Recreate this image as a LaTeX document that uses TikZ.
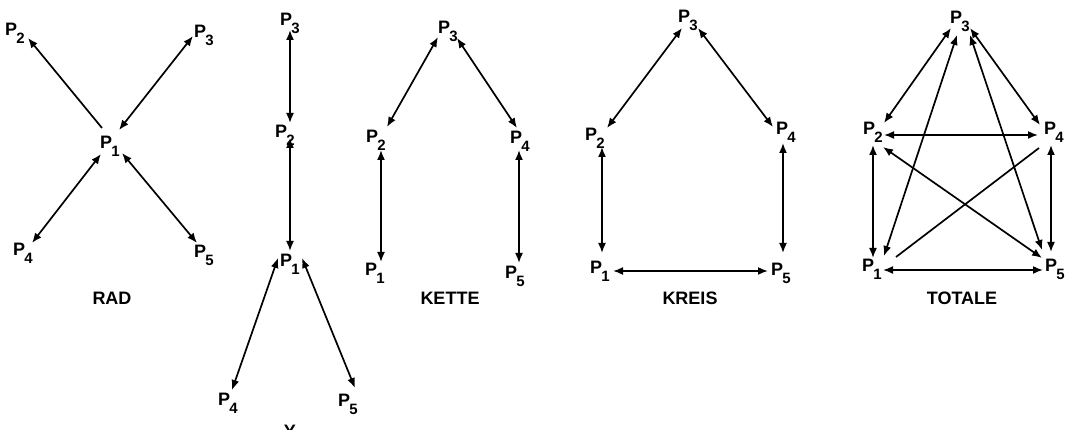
\documentclass[tikz,border=0pt]{standalone}
\usepackage{fontspec}
\setmainfont{Liberation Sans}
\usetikzlibrary{arrows.meta}
% point label: capital P with a deep, large subscript digit
\newcommand\pidx[1]{P\kern-0.8pt\raisebox{-8pt}{\fontsize{15}{15}\selectfont#1}}
\begin{document}
\begin{tikzpicture}[x=1pt,y=-1pt,
  lab/.style={inner sep=0pt, anchor=base west, font=\fontsize{18}{18}\selectfont\bfseries},
  title/.style={inner sep=0pt, anchor=base, font=\fontsize{18}{18}\selectfont\bfseries},
  link/.style={line width=1.7pt, {Latex[length=10pt,width=8pt]}-{Latex[length=10pt,width=8pt]}},
  oneway/.style={line width=1.7pt, -{Latex[length=10pt,width=8pt]}},
  plain/.style={line width=1.7pt}]
\clip (0,0) rectangle (1072,430);
\fill[white] (0,0) rectangle (1072,430);

% ---------------- RAD ----------------
\node[lab] (r2) at (5,36) {\pidx{2}};
\node[lab] (r3) at (194,38) {\pidx{3}};
\node[lab] (r1) at (100,149) {\pidx{1}};
\node[lab] (r4) at (13,256) {\pidx{4}};
\node[lab] (r5) at (194,258) {\pidx{5}};
\node[title] (rad) at (112,305) {RAD};
\draw[oneway] ([shift={(2,-21)}]r1.base west) -- ([shift={(23,2)}]r2.base west);
\draw[link] ([shift={(19,-19)}]r1.base west) -- ([shift={(-1,-2)}]r3.base west);
\draw[link] ([shift={(1,5)}]r1.base west) -- ([shift={(19,-13)}]r4.base west);
\draw[link] ([shift={(22,4)}]r1.base west) -- ([shift={(3,-15)}]r5.base west);

% ---------------- Y ----------------
\node[lab] (y3) at (280,26) {\pidx{3}};
\node[lab] (y2) at (275,138) {\pidx{2}};
\node[lab] (y1) at (280,267) {\pidx{1}};
\node[lab] (y4) at (218,406) {\pidx{4}};
\node[lab] (y5) at (338,407) {\pidx{5}};
\node[title] (ytitle) at (290,438) {Y};
\draw[link] ([shift={(10,4)}]y3.base west) -- ([shift={(15,-15)}]y2.base west);
\draw[link] ([shift={(15,0)}]y2.base west) -- ([shift={(10,-16)}]y1.base west);
\draw[link] ([shift={(-2,-9)}]y1.base west) -- ([shift={(14,-16)}]y4.base west);
\draw[link] ([shift={(22,-9)}]y1.base west) -- ([shift={(17,-19)}]y5.base west);

% ---------------- KETTE ----------------
\node[lab] (k3) at (438,34) {\pidx{3}};
\node[lab] (k2) at (366,143) {\pidx{2}};
\node[lab] (k4) at (510,144) {\pidx{4}};
\node[lab] (k1) at (365,276) {\pidx{1}};
\node[lab] (k5) at (505,279) {\pidx{5}};
\node[title] (kette) at (450,305) {KETTE};
\draw[link] ([shift={(0,3)}]k3.base west) -- ([shift={(21,-16)}]k2.base west);
\draw[link] ([shift={(19,4)}]k3.base west) -- ([shift={(7,-16)}]k4.base west);
\draw[link] ([shift={(15,7)}]k2.base west) -- ([shift={(16,-14)}]k1.base west);
\draw[link] ([shift={(9,6)}]k4.base west) -- ([shift={(14,-16)}]k5.base west);

% ---------------- KREIS ----------------
\node[lab] (c3) at (678,23) {\pidx{3}};
\node[lab] (c2) at (585,141) {\pidx{2}};
\node[lab] (c4) at (776,135) {\pidx{4}};
\node[lab] (c1) at (590,274) {\pidx{1}};
\node[lab] (c5) at (771,276) {\pidx{5}};
\node[title] (kreis) at (690,305) {KREIS};
\draw[link] ([shift={(4,5)}]c3.base west) -- ([shift={(22,-13)}]c2.base west);
\draw[link] ([shift={(20,5)}]c3.base west) -- ([shift={(-3,-8)}]c4.base west);
\draw[link] ([shift={(17,6)}]c2.base west) -- ([shift={(12,-21)}]c1.base west);
\draw[link] ([shift={(7,8)}]c4.base west) -- ([shift={(12,-23)}]c5.base west);
\draw[link] ([shift={(23,-3)}]c1.base west) -- ([shift={(-3,-5)}]c5.base west);

% ---------------- TOTALE ----------------
\node[lab] (t3) at (950,24) {\pidx{3}};
\node[lab] (t2) at (863,135) {\pidx{2}};
\node[lab] (t4) at (1044,135) {\pidx{4}};
\node[lab] (t1) at (862,272) {\pidx{1}};
\node[lab] (t5) at (1045,272) {\pidx{5}};
\node[title] (totale) at (962,305) {TOTALE};
\draw[link] ([shift={(1,4)}]t3.base west) -- ([shift={(21,-12)}]t2.base west);
\draw[link] ([shift={(20,4)}]t3.base west) -- ([shift={(-4,-10)}]t4.base west);
\draw[link] ([shift={(7,11)}]t3.base west) -- ([shift={(22,-16)}]t1.base west);
\draw[link] ([shift={(20,11)}]t3.base west) -- ([shift={(-3,-22)}]t5.base west);
\draw[link] ([shift={(21,0)}]t2.base west) -- ([shift={(-6,0)}]t4.base west);
\draw[link] ([shift={(10,10)}]t2.base west) -- ([shift={(11,-14)}]t1.base west);
\draw[link] ([shift={(7,10)}]t4.base west) -- ([shift={(6,-20)}]t5.base west);
\draw[link] ([shift={(20,12)}]t2.base west) -- ([shift={(-3,-14)}]t5.base west);
\draw[plain] ([shift={(-5,13)}]t4.base west) -- ([shift={(34,-15)}]t1.base west);
\draw[link] ([shift={(21,-2)}]t1.base west) -- ([shift={(-2,-2)}]t5.base west);
\end{tikzpicture}
\end{document}
